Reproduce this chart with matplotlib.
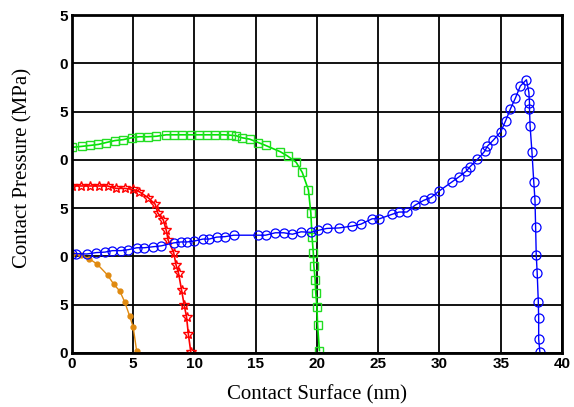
import numpy as np
import matplotlib.pyplot as plt

# blue curve (circles)
blue_x = [0, 0.3, 1.2, 2.0, 2.7, 3.3, 4.0, 4.6, 5.3, 5.9, 6.6, 7.3, 8.3, 8.9, 9.4, 10.0,
          10.7, 11.2, 11.8, 12.5, 13.2, 15.2, 15.8, 16.6, 17.3, 18.0, 18.7, 19.5, 20.1,
          20.8, 21.8, 22.9, 23.6, 24.5, 25.1, 26.1, 26.7, 27.35, 28.0, 28.7, 29.3, 30.0,
          31.0, 31.6, 32.2, 32.5, 33.1, 33.7, 33.9, 34.4, 35.0, 35.4, 35.8, 36.2, 36.6,
          37.1, 37.3, 37.35, 37.35, 37.4, 37.55, 37.7, 37.8, 37.85, 37.9, 37.98, 38.07,
          38.1, 38.1, 38.2]
blue_y = [10.3, 10.3, 10.25, 10.4, 10.45, 10.6, 10.6, 10.7, 10.9, 10.9, 11.0, 11.1, 11.4,
          11.5, 11.5, 11.6, 11.8, 11.8, 12.0, 12.05, 12.2, 12.2, 12.2, 12.45, 12.45, 12.3,
          12.55, 12.5, 12.7, 12.9, 12.95, 13.15, 13.35, 13.9, 13.9, 14.35, 14.6, 14.6,
          15.3, 15.8, 16.1, 16.8, 17.7, 18.25, 18.85, 19.3, 20.05, 20.9, 21.4, 22.05, 22.9,
          24.05, 25.3, 26.4, 27.65, 28.3, 27.0, 25.9, 25.3, 23.5, 20.85, 17.7, 15.8, 13.1,
          10.2, 8.25, 5.3, 3.6, 1.45, 0.07]

# green curve (squares)
green_x = [0, 0.8, 1.5, 2.15, 2.8, 3.5, 4.2, 4.9, 5.5, 6.2, 6.9, 7.7, 8.3, 9.0, 9.7, 10.4,
           11.0, 11.7, 12.4, 13.0, 13.4, 13.85, 14.5, 15.2, 15.8, 17.0, 17.6, 18.3, 18.8,
           19.3, 19.5, 19.6, 19.7, 19.75, 19.85, 19.9, 20.0, 20.05, 20.2]
green_y = [21.3, 21.4, 21.5, 21.6, 21.8, 22.0, 22.1, 22.3, 22.4, 22.4, 22.45, 22.6, 22.6,
           22.6, 22.6, 22.6, 22.6, 22.6, 22.6, 22.55, 22.5, 22.3, 22.15, 21.8, 21.5, 20.85,
           20.4, 19.75, 18.7, 16.9, 14.5, 12.0, 10.4, 9.0, 7.6, 6.25, 4.8, 2.9, 0.25]

# red curve (stars)
red_x = [0, 0.7, 1.5, 2.2, 2.9, 3.6, 4.3, 4.95, 5.5, 6.2, 6.8, 7.0, 7.45, 7.7, 7.85, 8.3,
         8.5, 8.7, 8.95, 9.16, 9.35, 9.5, 9.7]
red_y = [17.3, 17.3, 17.3, 17.3, 17.3, 17.05, 17.05, 16.95, 16.7, 16.1, 15.4, 14.5, 13.8,
         12.7, 11.7, 10.4, 9.1, 8.25, 6.5, 4.97, 3.76, 1.97, 0.1]

# orange curve (dots)
orange_x = [0, 0.7, 1.4, 2.06, 2.9, 3.4, 3.9, 4.3, 4.7, 5.0, 5.28]
orange_y = [10.3, 10.1, 9.77, 9.2, 8.08, 7.14, 6.42, 5.3, 3.86, 2.66, 0.2]

xticks = [0, 5, 10, 15, 20, 25, 30, 35, 40]
yticks = [0, 5, 10, 15, 20, 25, 30, 35]
ytick_labels = ['0', '5', '0', '5', '0', '5', '0', '5']

fig = plt.figure(figsize=(5.74, 4.07), dpi=100)
ax = fig.add_axes([0.1254, 0.1327, 0.8536, 0.8303])

ax.plot(orange_x, orange_y, color='#e08a10', lw=1, marker='o', ms=3.5, mfc='#e08a10', mec='#e08a10')
ax.plot(red_x, red_y, color='#ff0000', lw=1.2, marker='*', ms=7, mfc='none', mec='#ff0000', mew=1)
ax.plot(green_x, green_y, color='#00e600', lw=1.2, marker='s', ms=6, mfc='none', mec='#22dd22', mew=1)
ax.plot(blue_x, blue_y, color='#0000ff', lw=1, marker='o', ms=6.5, mfc='none', mec='#0000ff', mew=0.9)

ax.set_xlim(0, 40)
ax.set_ylim(0, 35)
ax.set_xticks(xticks)
ax.set_yticks(yticks)
ax.set_yticklabels(ytick_labels)
ax.grid(True, color='black', lw=1.3)
ax.set_axisbelow(True)
for s in ax.spines.values():
    s.set_linewidth(2)
ax.tick_params(length=0, pad=3)
for lab in ax.get_xticklabels() + ax.get_yticklabels():
    lab.set_fontfamily('Liberation Sans')
    lab.set_fontweight('bold')
    lab.set_fontsize(11)

ax.set_xlabel('Contact Surface (nm)', family='Liberation Serif', fontsize=15, labelpad=10)
ax.set_ylabel('Contact Pressure (MPa)', family='Liberation Serif', fontsize=15)
ax.yaxis.set_label_coords(-0.08, 0.547)

fig.savefig('out.png', dpi=100)
